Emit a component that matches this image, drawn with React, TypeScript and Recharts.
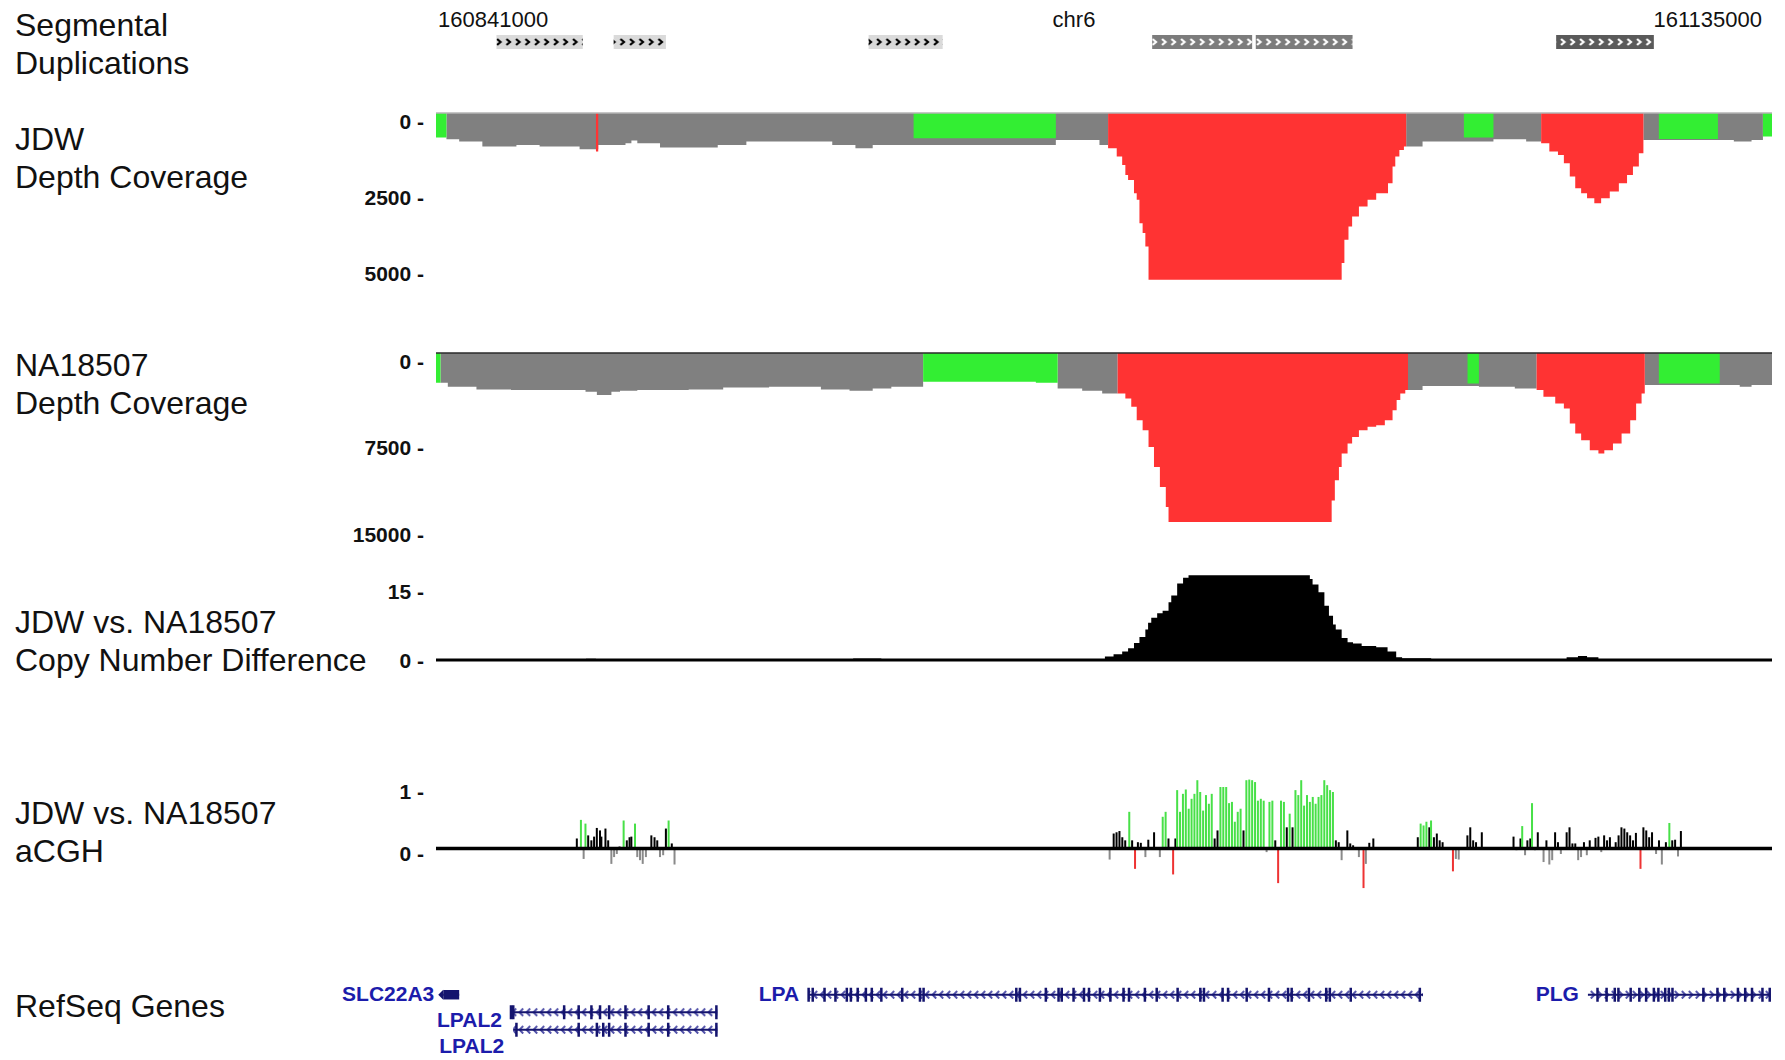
import {
  Area,
  Bar,
  Cell,
  ComposedChart,
  ReferenceArea,
  ReferenceLine,
  Scatter,
  XAxis,
  YAxis,
} from "recharts";
import type { ReactNode } from "react";

const CHROM = "chr6";
const VIEW_START = 160841; // kb
const VIEW_END = 161135;

// Segmental duplications (kb)
const dupStart = [160854.3, 160880.1, 160936.2, 160998.6, 161021.4, 161087.5];
const dupEnd = [160873.3, 160891.6, 160952.5, 161020.6, 161042.7, 161109.0];
const dupShade = ["light", "light", "light", "mid", "mid", "dark"];

// JDW read depth: value holds from pos[i] to pos[i + 1]
const jdwPos = [
  160841.0, 160843.3, 160846.1, 160851.2, 160858.7, 160863.8, 160872.6, 160876.2, 160876.7, 160882.7,
  160884.0, 160885.3, 160890.3, 160903.0, 160909.3, 160928.2, 160933.3, 160937.1, 160946.1, 160977.4,
  160987.0, 160988.9, 160990.8, 160992.0, 160992.7, 160993.3, 160994.6, 160995.2, 160995.8, 160996.5,
  160997.1, 160997.8, 161040.3, 161040.9, 161041.8, 161042.6, 161044.1, 161046.0, 161047.9, 161050.5,
  161051.5, 161052.1, 161053.0, 161054.0, 161054.5, 161058.1, 161067.2, 161073.7, 161080.9, 161084.2,
  161086.0, 161087.9, 161089.2, 161090.5, 161091.7, 161093.0, 161094.3, 161095.9, 161097.4, 161099.3,
  161101.3, 161103.1, 161104.4, 161105.7, 161106.7, 161110.1, 161123.1, 161126.6, 161130.5, 161133.0,
];
const jdwDepth = [
  806, 860, 937, 1100, 1046, 1100, 1187, 1264, 1046, 991,
  904, 991, 1133, 1046, 937, 1046, 1155, 1046, 828, 882,
  1046, 1155, 1427, 1700, 2026, 2190, 2625, 2843, 3606, 3932,
  4368, 5458, 4913, 4150, 3715, 3389, 3061, 2843, 2625, 2299,
  1754, 1427, 1209, 1100, 1100, 937, 806, 860, 937, 991,
  1264, 1373, 1645, 2081, 2462, 2625, 2789, 2952, 2789, 2571,
  2299, 2026, 1754, 1318, 882, 850, 882, 937, 882, 773,
];
const jdwCallStart = [
  160841.0, 160843.3, 160876.2, 160876.7, 160946.1, 160977.4, 160988.9, 161054.5,
  161067.2, 161073.7, 161084.2, 161106.7, 161110.1, 161123.1, 161133.0,
];
const jdwCallKind = [
  "low", "cn2", "gain", "cn2", "low", "cn2", "gain", "cn2",
  "low", "cn2", "gain", "cn2", "low", "cn2", "low",
];

// NA18507 read depth
const naPos = [
  160841.0, 160842.0, 160843.6, 160849.9, 160857.5, 160873.9, 160876.4, 160879.6, 160881.5, 160885.3,
  160896.6, 160904.2, 160914.3, 160925.7, 160932.0, 160937.1, 160941.2, 160948.2, 160973.0, 160977.8,
  160983.2, 160987.6, 160991.0, 160992.7, 160994.0, 160995.2, 160996.5, 160997.8, 160999.0, 161000.3,
  161001.6, 161002.2, 161038.1, 161038.8, 161039.7, 161040.3, 161041.6, 161042.6, 161044.1, 161046.0,
  161047.9, 161049.8, 161051.5, 161052.4, 161053.2, 161054.3, 161054.9, 161058.1, 161068.0, 161070.5,
  161078.4, 161083.2, 161084.7, 161087.3, 161089.2, 161090.5, 161091.7, 161093.0, 161094.9, 161096.8,
  161098.1, 161100.0, 161101.9, 161103.8, 161105.1, 161106.3, 161107.0, 161110.1, 161123.5, 161127.9,
  161130.5,
];
const naDepth = [
  2575, 2575, 2922, 3150, 3208, 3353, 3642, 3353, 3266, 3208,
  3150, 2980, 2922, 3150, 3266, 3064, 2919, 2486, 2572, 3064,
  3266, 3497, 3497, 3931, 4653, 5810, 6677, 8122, 9857, 11590,
  13324, 14625, 12746, 11012, 9857, 8700, 7833, 7255, 6677, 6388,
  6243, 5810, 4942, 4075, 3497, 3208, 3208, 2861, 2630, 2919,
  3064, 3208, 3786, 4364, 4798, 6099, 6966, 7544, 8411, 8700,
  8411, 7833, 6966, 5810, 4364, 3497, 2775, 2630, 2775, 2919,
  2775,
];
const naCallStart = [
  160841.0, 160842.0, 160948.2, 160977.8, 160991.0, 161054.9,
  161068.0, 161070.5, 161083.2, 161107.0, 161110.1, 161123.5,
];
const naCallKind = ["low", "cn2", "low", "cn2", "gain", "cn2", "low", "cn2", "gain", "cn2", "low", "cn2"];

// JDW vs NA18507 copy number difference (step values)
const cnPos = [
  160841.0, 160874.0, 160876.2, 160932.8, 160939.0, 160988.2, 160990.1, 160992.0, 160993.3, 160994.6,
  160995.8, 160997.1, 160997.7, 160998.4, 160999.7, 161000.9, 161002.2, 161002.8, 161004.1, 161005.4,
  161006.6, 161033.3, 161033.9, 161035.2, 161036.5, 161037.5, 161038.4, 161039.0, 161040.3, 161041.6,
  161042.8, 161044.7, 161047.9, 161050.4, 161052.3, 161053.6, 161060.0, 161089.8, 161092.3, 161094.3,
  161096.8, 161135.0,
];
const cnVal = [
  0, 0.3, 0, 0.35, 0, 0.75, 1.27, 1.87, 2.6, 3.73,
  5.07, 6.7, 8.2, 9.3, 10.3, 10.8, 12.7, 14.2, 16.8, 18.06,
  18.65, 17.8, 16.6, 14.9, 11.9, 9.7, 7.8, 6.7, 4.85, 3.9,
  3.6, 3.1, 2.8, 1.87, 0.6, 0.37, 0, 0.6, 0.9, 0.6,
  0, 0,
];

// aCGH log ratios per probe
const acghPos = [
  160872.0, 160872.9, 160873.5, 160873.9, 160874.5, 160875.2, 160875.8, 160876.4, 160877.1, 160877.4,
  160878.3, 160878.9, 160879.6, 160880.2, 160880.8, 160881.4, 160882.3, 160883.0, 160883.6, 160884.0,
  160884.8, 160885.3, 160885.9, 160886.5, 160887.2, 160888.4, 160889.1, 160889.7, 160890.3, 160891.0,
  160891.6, 160892.2, 160892.9, 160893.5,
  160989.25, 160990.14, 160990.77, 160991.41, 160992.04, 160992.68, 160993.57, 160994.2, 160994.84, 160995.47,
  160996.11, 160997.12, 160997.76, 160999.03, 161000.3, 161000.93, 161001.57, 161002.2, 161003.22, 161003.72,
  161004.11, 161004.74, 161005.38, 161006.01, 161006.65, 161007.28, 161007.91, 161008.55, 161009.18, 161009.82,
  161010.45, 161011.09, 161011.72, 161012.36, 161012.99, 161013.63, 161014.26, 161014.9, 161015.53, 161016.17,
  161016.8, 161017.44, 161018.07, 161018.71, 161019.34, 161019.98, 161020.61, 161021.25, 161021.88, 161022.52,
  161023.15, 161023.79, 161024.42, 161025.06, 161025.7, 161026.33, 161026.96, 161027.6, 161028.23, 161028.87,
  161029.5, 161030.14, 161030.77, 161031.41, 161032.04, 161032.68, 161033.31, 161033.95, 161034.58, 161035.22,
  161035.85, 161036.49, 161037.12, 161037.76, 161038.39, 161039.03, 161039.66, 161040.3, 161041.56, 161042.2,
  161042.83, 161044.1, 161045.12, 161045.63, 161046.39, 161047.28,
  161057.06, 161057.69, 161058.33, 161058.96, 161059.6, 161059.98, 161060.61, 161061.25, 161061.88, 161062.52,
  161064.8, 161065.44, 161066.07, 161067.98, 161068.61, 161069.25, 161069.88, 161071.15,
  161078.13, 161078.77, 161079.66, 161080.04, 161080.67, 161081.18, 161081.82, 161082.2, 161082.83, 161083.47,
  161084.74, 161085.37, 161086.01, 161086.64, 161087.28, 161087.91, 161088.55, 161089.82, 161090.45, 161091.09,
  161091.72, 161092.36, 161092.99, 161093.63, 161094.26, 161094.9, 161096.17, 161096.8, 161097.44, 161098.07,
  161098.71, 161099.34, 161100.61, 161101.25, 161101.88, 161102.52, 161103.15, 161103.79, 161104.42, 161105.06,
  161106.07, 161106.71, 161107.34, 161107.98, 161108.61, 161109.5, 161110.14, 161110.77, 161111.66, 161112.42,
  161113.06, 161113.69, 161114.33, 161114.96,
];
const acghVal = [
  0.16, 0.46, -0.17, 0.4, 0.21, 0.13, 0.19, 0.33, 0.29, 0.19,
  0.32, 0.13, -0.25, -0.14, -0.09, 0.03, 0.45, 0.13, 0.18, 0.19,
  0.4, -0.14, -0.19, -0.25, -0.14, 0.21, 0.18, 0.13, -0.14, -0.11,
  0.32, 0.45, 0.08, -0.26,
  -0.18, 0.24, 0.26, 0.28, 0.18, 0.13, 0.59, 0.13, -0.33, 0.1,
  0.09, -0.14, 0.14, 0.26, -0.14, 0.51, 0.59, 0.16, -0.42, 0.16,
  0.94, 0.59, 0.88, 0.95, 0.64, 0.8, 0.88, 1.1, 0.91, 0.61,
  0.86, 0.72, 0.88, 0.16, 0.29, 0.99, 0.99, 0.99, 0.73, 0.75,
  0.43, 0.59, 0.64, 0.29, 1.1, 1.11, 1.1, 1.07, 0.77, 0.8,
  0.77, -0.06, 0.75, 0.77, 0.13, -0.56, 0.77, 0.75, 0.34, 0.56,
  0.34, 0.94, 0.86, 1.1, 0.69, 0.86, 0.75, 0.83, 0.72, 0.83,
  0.86, 1.1, 1.02, 0.94, 0.91, 0.13, 0.1, -0.19, 0.29, 0.08,
  0.05, -0.14, -0.64, -0.25, 0.09, 0.16,
  0.18, 0.4, 0.37, 0.43, 0.34, 0.45, 0.18, 0.24, 0.13, 0.1,
  -0.37, -0.17, -0.18, 0.21, 0.34, 0.13, 0.1, 0.26,
  0.19, -0.03, 0.16, 0.36, -0.11, 0.13, 0.16, 0.73, -0.03, 0.26,
  -0.22, 0.13, -0.26, -0.19, 0.26, 0.1, -0.09, 0.26, 0.34, 0.08,
  0.08, -0.19, -0.14, 0.1, -0.11, 0.13, 0.17, 0.19, -0.06, 0.21,
  0.13, 0.18, 0.1, 0.21, 0.34, 0.32, 0.26, 0.21, 0.13, 0.25,
  -0.33, 0.34, 0.29, 0.18, 0.26, -0.09, 0.13, -0.26, 0.1, 0.41,
  0.13, 0.14, -0.13, 0.28,
];

// RefSeq genes
const geneName = ["SLC22A3", "LPAL2", "LPAL2", "LPA", "PLG"];
const geneStart = [160842.6, 160857.5, 160858.0, 160922.9, 161094.5];
const geneEnd = [160846.1, 160902.9, 160902.9, 161058.2, 161134.6];
const geneStrand = ["+", "-", "-", "-", "+"];
const geneRow = [0, 1, 2, 0, 0];
const geneExons = [
  [],
  [160857.5, 160858.0, 160869.2, 160872.4, 160875.2, 160877.1, 160879.1, 160882.7, 160887.8, 160892.1, 160902.7],
  [160858.7, 160872.4, 160876.4, 160877.8, 160879.1, 160882.7, 160887.8, 160892.1, 160902.7],
  [
    160923.0, 160923.9, 160926.5, 160928.9, 160931.4, 160932.3, 160933.8, 160935.6, 160936.9, 160939.0,
    160943.6, 160947.5, 160948.3, 160968.7, 160969.5, 160975.2, 160978.0, 160978.7, 160981.3, 160983.6,
    160984.7, 160987.1, 160989.4, 160992.3, 160993.5, 160997.0, 160999.6, 161004.2, 161009.2, 161010.0,
    161014.1, 161015.3, 161019.4, 161024.3, 161028.5, 161029.3, 161033.1, 161036.9, 161037.7, 161042.3,
    161057.5,
  ],
  [
    161096.6, 161098.6, 161100.4, 161101.2, 161103.9, 161105.8, 161107.3, 161109.0, 161110.0, 161111.5,
    161112.3, 161113.1, 161119.9, 161123.0, 161124.5, 161127.5, 161129.1, 161130.6, 161132.9, 161134.5,
  ],
];

// ---- layout ----
const W = 1785;
const H = 1060;
const PLOT_LEFT = 436;
const PLOT_RIGHT = 1772;
const AXIS_W = 60;
const PAD = 12;
const GENE_ROW_H = 17.5;
const FONT = "'Liberation Sans', Arial, Helvetica, sans-serif";

const CALL_FILL: Record<string, string> = { cn2: "#808080", low: "#33ee33", gain: "#ff3333" };
const DUP_FILL: Record<string, string> = { light: "#dadada", mid: "#7c7c7c", dark: "#5a5a5a" };
const GENE_INK = "#14146e";
const GENE_TEXT = "#1c1cab";
const LABEL_DY = [-1, 7, 16];

function coverageRows(pos: number[], depth: number[], callStart: number[], callKind: string[]) {
  const callAt = (p: number) => {
    let k = callKind[0];
    callStart.forEach((s, i) => {
      if (p >= s - 1e-6) k = callKind[i];
    });
    return k;
  };
  const rows: Record<string, number>[] = [];
  pos.forEach((p, i) => {
    const kind = callAt(p);
    const row: Record<string, number> = { pos: p, [kind]: depth[i] };
    if (i > 0) {
      const prev = callAt(pos[i - 1]);
      if (prev !== kind) row[prev] = depth[i - 1];
    }
    rows.push(row);
  });
  const last = pos.length - 1;
  rows.push({ pos: VIEW_END, [callAt(pos[last])]: depth[last] });
  return rows;
}

// each duplication is its own key so the boxes stay separate
const dupRows = dupStart.flatMap((s, i) => [
  { pos: s, [`d${i}`]: 1 },
  { pos: dupEnd[i], [`d${i}`]: 1 },
]);
const jdwRows = coverageRows(jdwPos, jdwDepth, jdwCallStart, jdwCallKind);
const naRows = coverageRows(naPos, naDepth, naCallStart, naCallKind);
const cnRows = cnPos.map((pos, i) => ({ pos, cn: cnVal[i] }));
const acghRows = acghPos.map((pos, i) => ({ pos, v: acghVal[i] }));

const exonRows = geneExons.flatMap((list, g) => list.map((pos) => ({ pos, row: geneRow[g] })));
const geneLabelRows = geneName.map((name, g) => ({ pos: geneStart[g], row: geneRow[g], name }));
const edgeArrowRows = [{ pos: geneStart[0], row: geneRow[0] }];

function acghColor(v: number) {
  if (v >= 0.35) return "#48e048";
  if (v >= 0) return "#000000";
  if (v > -0.3) return "#8a8a8a";
  return "#ee3333";
}

function ScaleTick(props: any) {
  const { x, y, payload, shift } = props;
  return (
    <text
      x={x}
      y={y + shift}
      textAnchor="end"
      dominantBaseline="central"
      fontFamily={FONT}
      fontSize={21}
      fontWeight="bold"
      fill="#111"
    >
      {`${payload.value} -`}
    </text>
  );
}

function AcghBar(props: any) {
  const { x, y, width, height, fill } = props;
  const top = Math.min(y, y + height);
  return <rect x={x + width / 2 - 1} y={top} width={2} height={Math.abs(height)} fill={fill} />;
}

function ExonTick(props: any) {
  const { cx, cy } = props;
  return <rect x={cx - 1.25} y={cy - 7} width={2.5} height={14} fill={GENE_INK} />;
}

function EdgeArrow(props: any) {
  const { cx, cy } = props;
  return <polygon points={`${cx},${cy - 5} ${cx - 5},${cy} ${cx},${cy + 5}`} fill={GENE_INK} />;
}

function GeneLabel(props: any) {
  const { cx, cy, payload } = props;
  return (
    <text
      x={cx - 9}
      y={cy + LABEL_DY[payload.row]}
      textAnchor="end"
      dominantBaseline="central"
      fontFamily={FONT}
      fontSize={21}
      fontWeight="bold"
      fill={GENE_TEXT}
    >
      {payload.name}
    </text>
  );
}

const xAxis = (
  <XAxis
    type="number"
    dataKey="pos"
    domain={[VIEW_START, VIEW_END]}
    height={0}
    tick={false}
    tickLine={false}
    axisLine={false}
  />
);

function TrackFrame({
  top,
  height,
  data,
  padBottom = PAD,
  children,
}: {
  top: number;
  height: number;
  data?: any[];
  padBottom?: number;
  children: ReactNode;
}) {
  return (
    <div style={{ position: "absolute", left: 0, top: top - PAD }}>
      <ComposedChart
        width={W}
        height={height + PAD + padBottom}
        data={data}
        margin={{ top: PAD, bottom: padBottom, left: PLOT_LEFT - AXIS_W, right: W - PLOT_RIGHT }}
      >
        {children}
      </ComposedChart>
    </div>
  );
}

function CoverageTrack({ top, height, rows, max, ticks, topLine }: any) {
  return (
    <TrackFrame top={top} height={height} data={rows}>
      {xAxis}
      <YAxis
        type="number"
        domain={[0, max]}
        reversed
        allowDataOverflow
        ticks={ticks}
        interval={0}
        width={AXIS_W}
        axisLine={false}
        tickLine={false}
        tickSize={0}
        tickMargin={12}
        tick={(p: any) => <ScaleTick {...p} shift={8} />}
      />
      {["cn2", "low", "gain"].map((k) => (
        <Area
          key={k}
          type="stepAfter"
          dataKey={k}
          stroke="none"
          fill={CALL_FILL[k]}
          fillOpacity={1}
          dot={false}
          activeDot={false}
          isAnimationActive={false}
        />
      ))}
      <ReferenceLine y={0} stroke={topLine} strokeWidth={1.5} />
    </TrackFrame>
  );
}

const trackLabels = [
  { lines: ["Segmental", "Duplications"], y: 36 },
  { lines: ["JDW", "Depth Coverage"], y: 150 },
  { lines: ["NA18507", "Depth Coverage"], y: 376 },
  { lines: ["JDW vs. NA18507", "Copy Number Difference"], y: 633 },
  { lines: ["JDW vs. NA18507", "aCGH"], y: 824 },
  { lines: ["RefSeq Genes"], y: 1017 },
];

export default function App() {
  return (
    <div style={{ position: "absolute", left: 0, top: 0, width: W, height: H, background: "#fff" }}>
      <svg width={W} height={H} style={{ position: "absolute", left: 0, top: 0 }}>
        {trackLabels.map((t) =>
          t.lines.map((line, i) => (
            <text key={`${t.y}-${i}`} x={15} y={t.y + i * 37.5} fontFamily={FONT} fontSize={32} fill="#111">
              {line}
            </text>
          ))
        )}
        <text x={PLOT_LEFT + 2} y={27} fontFamily={FONT} fontSize={22} fill="#111">
          {`${VIEW_START * 1000}`}
        </text>
        <text x={1074} y={27} textAnchor="middle" fontFamily={FONT} fontSize={22} fill="#111">
          {CHROM}
        </text>
        <text x={PLOT_RIGHT - 10} y={27} textAnchor="end" fontFamily={FONT} fontSize={22} fill="#111">
          {`${VIEW_END * 1000}`}
        </text>
      </svg>

      {/* segmental duplications */}
      <TrackFrame top={35} height={14} data={dupRows}>
        <defs>
          <pattern id="chevOnLight" x={0} y={PAD} width={9.5} height={14} patternUnits="userSpaceOnUse">
            <path d="M3 4 L6.5 7 L3 10" fill="none" stroke="#000" strokeWidth={2.2} />
          </pattern>
          <pattern id="chevOnDark" x={0} y={PAD} width={9.5} height={14} patternUnits="userSpaceOnUse">
            <path d="M3 4 L6.5 7 L3 10" fill="none" stroke="#fff" strokeWidth={2.2} />
          </pattern>
        </defs>
        {xAxis}
        <YAxis type="number" domain={[0, 1]} width={AXIS_W} tick={false} tickLine={false} axisLine={false} />
        {dupStart.map((_, i) => (
          <Area
            key={`box${i}`}
            type="stepAfter"
            dataKey={`d${i}`}
            stroke="none"
            fill={DUP_FILL[dupShade[i]]}
            fillOpacity={1}
            dot={false}
            activeDot={false}
            isAnimationActive={false}
          />
        ))}
        {dupStart.map((_, i) => (
          <Area
            key={`chev${i}`}
            type="stepAfter"
            dataKey={`d${i}`}
            stroke="none"
            fill={dupShade[i] === "light" ? "url(#chevOnLight)" : "url(#chevOnDark)"}
            fillOpacity={1}
            dot={false}
            activeDot={false}
            isAnimationActive={false}
          />
        ))}
      </TrackFrame>

      <CoverageTrack top={113} height={168} rows={jdwRows} max={5500} ticks={[0, 2500, 5000]} topLine="#b4b4b4" />
      <CoverageTrack top={353} height={185} rows={naRows} max={16000} ticks={[0, 7500, 15000]} topLine="#2a2a2a" />

      {/* copy number difference */}
      <TrackFrame top={569} height={91} data={cnRows}>
        {xAxis}
        <YAxis
          type="number"
          domain={[0, 20]}
          allowDataOverflow
          ticks={[0, 15]}
          interval={0}
          width={AXIS_W}
          axisLine={false}
          tickLine={false}
          tickSize={0}
          tickMargin={12}
          tick={(p: any) => <ScaleTick {...p} shift={0} />}
        />
        <Area
          type="stepAfter"
          dataKey="cn"
          stroke="none"
          fill="#000"
          fillOpacity={1}
          dot={false}
          activeDot={false}
          isAnimationActive={false}
        />
        <ReferenceLine y={0} stroke="#000" strokeWidth={3} />
      </TrackFrame>

      {/* aCGH */}
      <TrackFrame top={774} height={124} data={acghRows}>
        {xAxis}
        <YAxis
          type="number"
          domain={[-0.8, 1.2]}
          allowDataOverflow
          ticks={[0, 1]}
          interval={0}
          width={AXIS_W}
          axisLine={false}
          tickLine={false}
          tickSize={0}
          tickMargin={12}
          tick={(p: any) => <ScaleTick {...p} shift={5} />}
        />
        <Bar dataKey="v" shape={<AcghBar />} isAnimationActive={false}>
          {acghRows.map((r, i) => (
            <Cell key={i} fill={acghColor(r.v)} />
          ))}
        </Bar>
        <ReferenceLine y={0} stroke="#000" strokeWidth={3.5} />
      </TrackFrame>

      {/* RefSeq genes */}
      <TrackFrame top={986} height={3 * GENE_ROW_H} padBottom={22}>
        <defs>
          <pattern id="geneMinus" x={0} y={PAD + GENE_ROW_H / 2 - 4.5} width={7} height={GENE_ROW_H} patternUnits="userSpaceOnUse">
            <path d="M5.2 0.8 L1.6 4.5 L5.2 8.2" fill="none" stroke="#5050a8" strokeWidth={2} />
          </pattern>
          <pattern id="genePlus" x={0} y={PAD + GENE_ROW_H / 2 - 4.5} width={7} height={GENE_ROW_H} patternUnits="userSpaceOnUse">
            <path d="M1.8 0.8 L5.4 4.5 L1.8 8.2" fill="none" stroke="#5050a8" strokeWidth={2} />
          </pattern>
        </defs>
        {xAxis}
        <YAxis
          type="number"
          dataKey="row"
          domain={[-0.5, 2.5]}
          reversed
          width={AXIS_W}
          tick={false}
          tickLine={false}
          axisLine={false}
        />
        {geneName.map((_, g) =>
          geneEnd[g] - geneStart[g] > 5 ? (
            <ReferenceArea
              key={`band${g}`}
              x1={geneStart[g]}
              x2={geneEnd[g]}
              y1={geneRow[g] - 4.5 / GENE_ROW_H}
              y2={geneRow[g] + 4.5 / GENE_ROW_H}
              fill={geneStrand[g] === "-" ? "url(#geneMinus)" : "url(#genePlus)"}
              fillOpacity={1}
              stroke="none"
            />
          ) : null
        )}
        {geneName.map((_, g) => (
          <ReferenceLine
            key={`line${g}`}
            segment={[
              { x: geneStart[g], y: geneRow[g] },
              { x: geneEnd[g], y: geneRow[g] },
            ]}
            stroke={GENE_INK}
            strokeWidth={2}
          />
        ))}
        <ReferenceArea
          x1={geneStart[0]}
          x2={geneEnd[0]}
          y1={geneRow[0] - 0.27}
          y2={geneRow[0] + 0.27}
          fill={GENE_INK}
          fillOpacity={1}
          stroke="none"
        />
        <Scatter data={edgeArrowRows} dataKey="row" shape={<EdgeArrow />} isAnimationActive={false} />
        <Scatter data={exonRows} dataKey="row" shape={<ExonTick />} isAnimationActive={false} />
        <Scatter data={geneLabelRows} dataKey="row" shape={<GeneLabel />} isAnimationActive={false} />
      </TrackFrame>
    </div>
  );
}
